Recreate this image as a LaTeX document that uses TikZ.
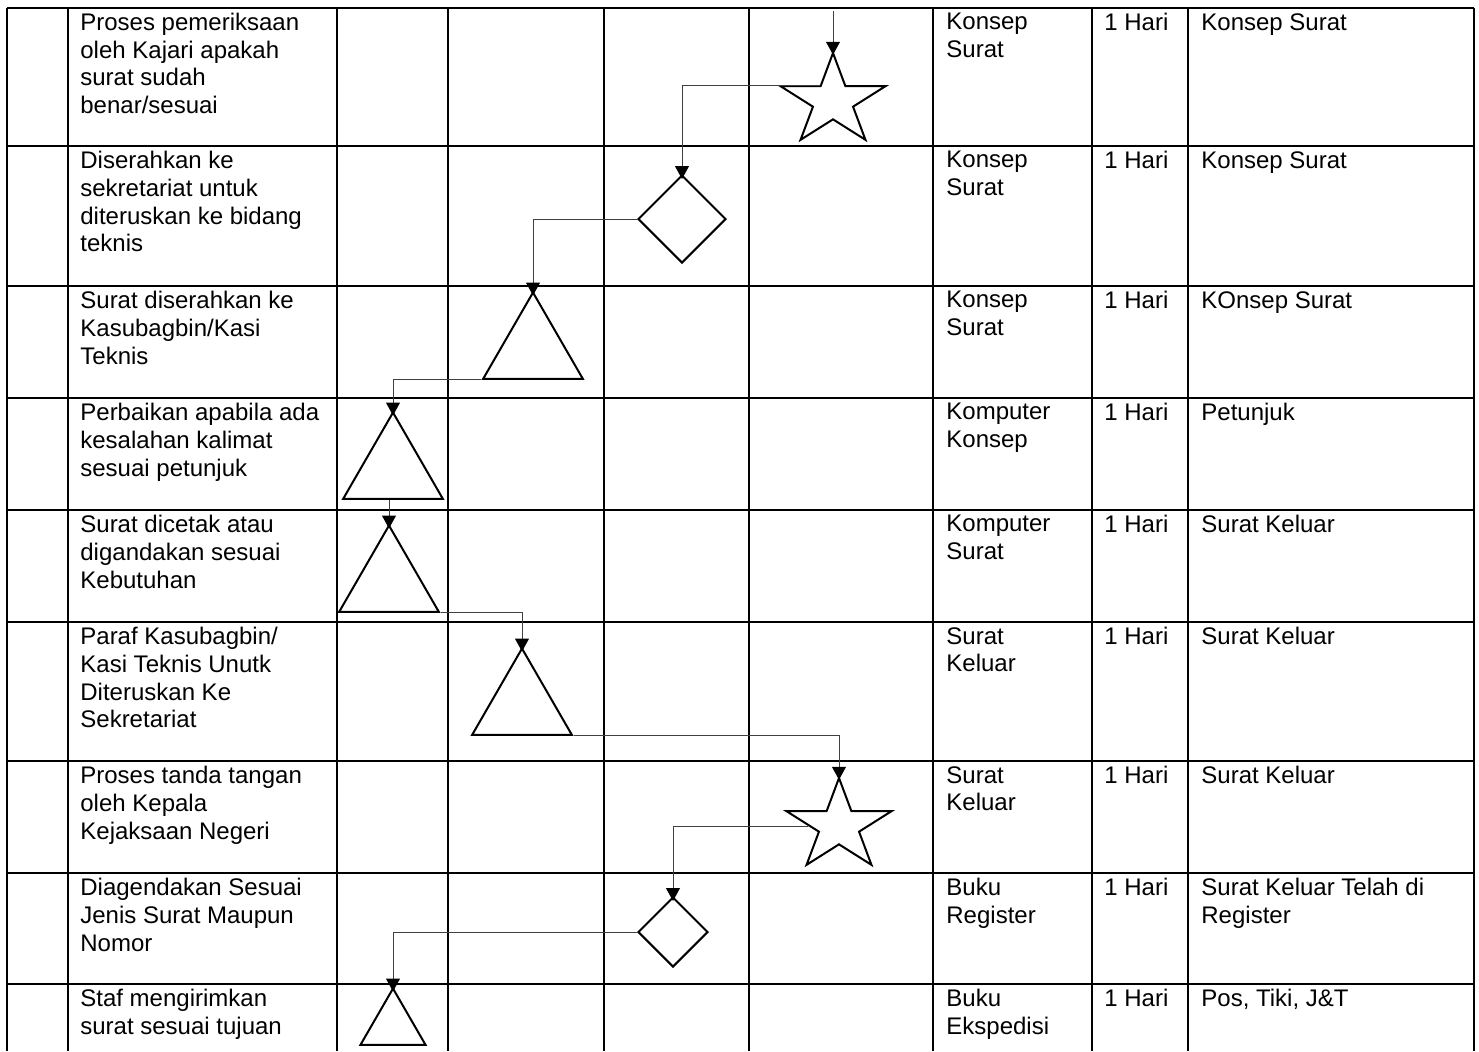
\documentclass[tikz,border=0pt]{standalone}
\usepackage{fontspec}
\setmainfont{Liberation Sans}
\usetikzlibrary{arrows.meta,calc,shapes.geometric}
\tikzset{
  grid/.style={draw=black,line width=1pt},
  cell/.style={anchor=north west,inner sep=0pt,align=left,font=\fontsize{12}{13.8}\selectfont},
  segitiga/.style={draw,line width=1pt,regular polygon,regular polygon sides=3,inner sep=0pt,minimum size=57.5pt},
  belah/.style={draw,line width=1pt,diamond,aspect=1,inner sep=0pt,minimum size=44pt},
  bintang/.style={draw,line width=1pt,star,star points=5,star point ratio=2.618,inner sep=0pt,minimum size=48pt,xscale=1.15,transform shape},
  alur/.style={draw=black!75,line width=.5pt,-{Triangle[length=6.5pt,width=7pt,color=black]},shorten >=-2.5pt},
}

\begin{document}
\begin{tikzpicture}[x=0.5pt,y=-0.5pt]
  \path[use as bounding box] (0,0) rectangle (1479,1051);
  % table
  \foreach \y in {8,146,286,398,510,622,761,873,984}
    \draw[grid] (7,\y) -- (1474,\y);
  \foreach \x in {7,68,337,448,604,749,933,1092,1188,1474}
    \draw[grid] (\x,8) -- (\x,1051);
  % texts
  \node[cell] (uraian1) at (80,13) {Proses pemeriksaan\\oleh Kajari apakah\\surat sudah\\benar/sesuai};
  \node[cell] (kel1) at (946,13) {Konsep\\Surat};
  \node[cell] (wkt1) at (1104,13) {1 Hari};
  \node[cell] (out1) at (1201,13) {Konsep Surat};
  \node[cell] (uraian2) at (80,151) {Diserahkan ke\\sekretariat untuk\\diteruskan ke bidang\\teknis};
  \node[cell] (kel2) at (946,151) {Konsep\\Surat};
  \node[cell] (wkt2) at (1104,151) {1 Hari};
  \node[cell] (out2) at (1201,151) {Konsep Surat};
  \node[cell] (uraian3) at (80,291) {Surat diserahkan ke\\Kasubagbin/Kasi\\Teknis};
  \node[cell] (kel3) at (946,291) {Konsep\\Surat};
  \node[cell] (wkt3) at (1104,291) {1 Hari};
  \node[cell] (out3) at (1201,291) {KOnsep Surat};
  \node[cell] (uraian4) at (80,403) {Perbaikan apabila ada\\kesalahan kalimat\\sesuai petunjuk};
  \node[cell] (kel4) at (946,403) {Komputer\\Konsep};
  \node[cell] (wkt4) at (1104,403) {1 Hari};
  \node[cell] (out4) at (1201,403) {Petunjuk};
  \node[cell] (uraian5) at (80,515) {Surat dicetak atau\\digandakan sesuai\\Kebutuhan};
  \node[cell] (kel5) at (946,515) {Komputer\\Surat};
  \node[cell] (wkt5) at (1104,515) {1 Hari};
  \node[cell] (out5) at (1201,515) {Surat Keluar};
  \node[cell] (uraian6) at (80,627) {Paraf Kasubagbin/\\Kasi Teknis Unutk\\Diteruskan Ke\\Sekretariat};
  \node[cell] (kel6) at (946,627) {Surat\\Keluar};
  \node[cell] (wkt6) at (1104,627) {1 Hari};
  \node[cell] (out6) at (1201,627) {Surat Keluar};
  \node[cell] (uraian7) at (80,766) {Proses tanda tangan\\oleh Kepala\\Kejaksaan Negeri};
  \node[cell] (kel7) at (946,766) {Surat\\Keluar};
  \node[cell] (wkt7) at (1104,766) {1 Hari};
  \node[cell] (out7) at (1201,766) {Surat Keluar};
  \node[cell] (uraian8) at (80,878) {Diagendakan Sesuai\\Jenis Surat Maupun\\Nomor};
  \node[cell] (kel8) at (946,878) {Buku\\Register};
  \node[cell] (wkt8) at (1104,878) {1 Hari};
  \node[cell] (out8) at (1201,878) {Surat Keluar Telah di\\Register};
  \node[cell] (uraian9) at (80,989) {Staf mengirimkan\\surat sesuai tujuan};
  \node[cell] (kel9) at (946,989) {Buku\\Ekspedisi};
  \node[cell] (wkt9) at (1104,989) {1 Hari};
  \node[cell] (out9) at (1201,989) {Pos, Tiki, J\&T};
  % flow symbols
  \node[bintang] (s1) at (833,101) {};
  \node[belah] (d2) at (682,219) {};
  \node[segitiga] (t3) at (533,350) {};
  \node[segitiga] (t4) at (393,470) {};
  \node[segitiga] (t5) at (389,583) {};
  \node[segitiga] (t6) at (522,706) {};
  \node[bintang] (s7) at (839,826) {};
  \node[belah,minimum size=35pt] (d8) at (673,932) {};
  \node[segitiga,minimum size=37.5pt] (t9) at (393,1026) {};
  % flow lines
  \coordinate (masuk) at (833,11);
  \draw[alur] (masuk) -- (s1.north);
  \draw[alur] (s1.inner point 1) -| (d2.north);
  \draw[alur] (d2.west) -| (t3.north);
  \draw[alur] (t3.corner 2) -| (t4.north);
  \draw[alur] (t4.south -| t5.north) -- (t5.north);
  \draw[alur] (t5.corner 3) -| (t6.north);
  \draw[alur] (t6.corner 3) -| (s7.north);
  \draw[alur] (s7.west) -| (d8.north);
  \draw[alur] (d8.west) -| (t9.north);
\end{tikzpicture}
\end{document}
